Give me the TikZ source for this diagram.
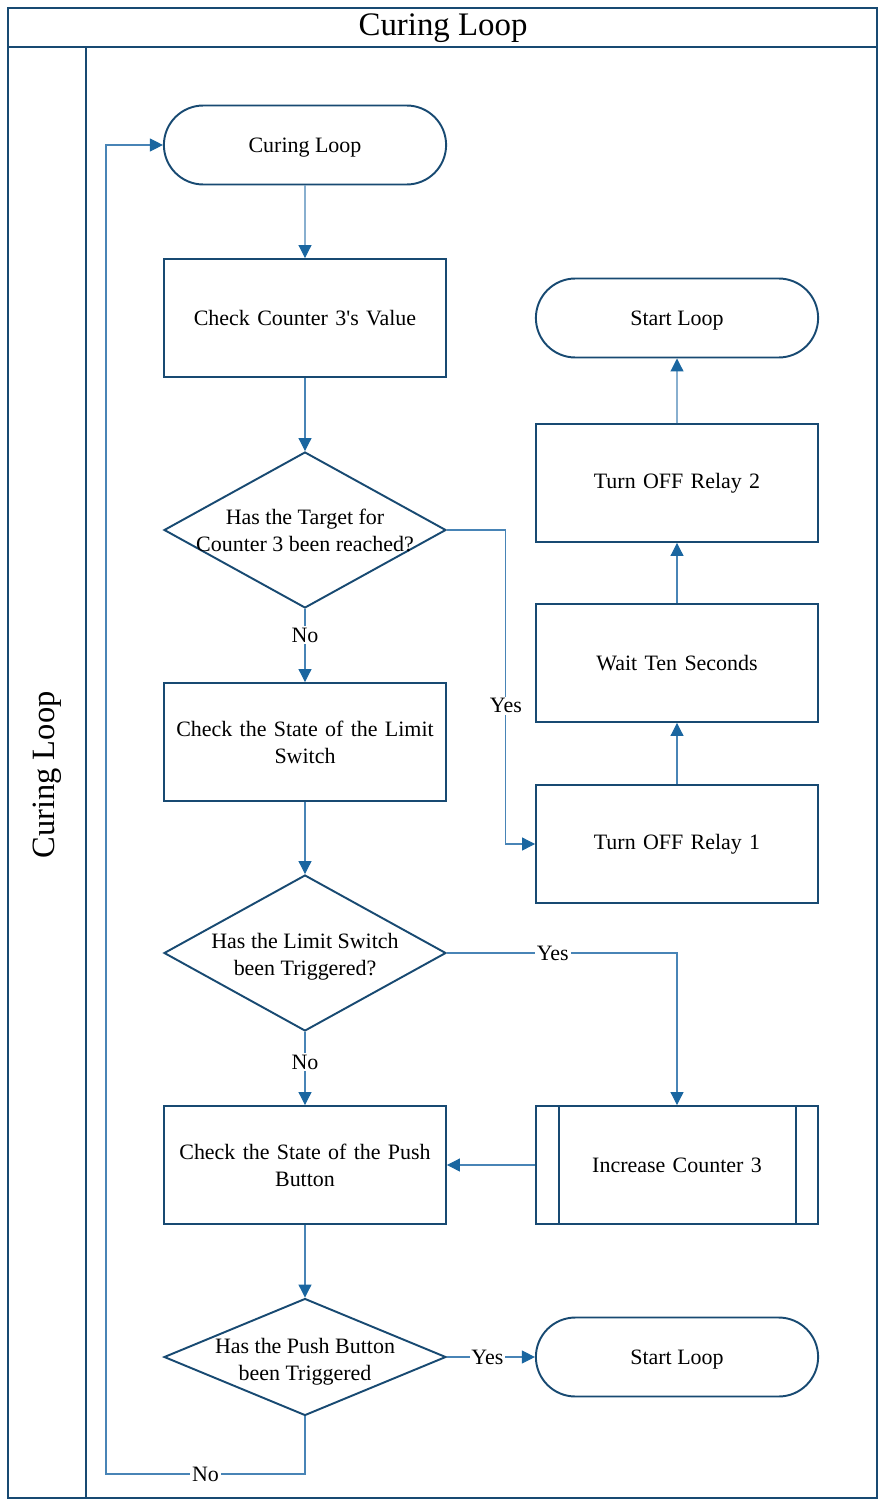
\documentclass[tikz,border=0pt]{standalone}
\usepackage{fontspec}
\setmainfont{Liberation Serif}
\usetikzlibrary{shapes.geometric,shapes.misc,arrows.meta}

\definecolor{frameblue}{RGB}{24,74,114}
\definecolor{lineblue}{RGB}{72,132,182}
\definecolor{tipblue}{RGB}{26,102,160}

\begin{document}
\begin{tikzpicture}
        [x=0.02cm,y=-0.02cm,
        every node/.style={font=\fontsize{12.5}{15.4}\selectfont,align=center},
        proc/.style={rectangle,draw=frameblue,line width=1.1pt,minimum width=5.64cm,minimum height=2.36cm,text width=5.3cm,inner sep=0pt},
        term/.style={rounded rectangle,draw=frameblue,line width=1.1pt,minimum width=5.88cm,minimum height=1.58cm,text depth=0pt},
        dec/.style={diamond,draw=frameblue,line width=1.1pt,minimum width=5.64cm,minimum height=3.12cm,inner sep=0pt},
        flow/.style={draw=lineblue,line width=0.6pt,-{Triangle[length=0.26cm,width=0.26cm,color=tipblue]}},
        lbl/.style={fill=white,inner sep=1pt}]
        \useasboundingbox (0,0) rectangle (878,1500);

        % pool and lane
        \draw[frameblue,line width=1.1pt] (8,8) rectangle (877,1498);
        \draw[frameblue,line width=1.1pt] (8,47) -- (877,47);
        \draw[frameblue,line width=1.1pt] (86,47) -- (86,1498);
        \node (title) at (443,28) {\fontsize{18.7}{22}\selectfont Curing Loop};
        \node[rotate=90] (lane) at (47,775) {\fontsize{18.5}{22}\selectfont Curing Loop};

        % main column
        \node[term] (CL) at (305,145)  {Curing Loop};
        \node[proc] (C3) at (305,318)  {Check Counter 3\textquotesingle s Value};
        \node[dec,label={center:{Has the Target for\\Counter 3 been reached?}}] (D1) at (305,530) {};
        \node[proc] (LS) at (305,742)  {Check the State of the Limit\\Switch};
        \node[dec,label={[yshift=-0.08cm]center:{Has the Limit Switch\\been Triggered?}}] (D2) at (305,953) {};
        \node[proc] (PB) at (305,1165) {Check the State of the Push\\Button};
        \node[dec,minimum height=2.34cm,label={[yshift=-0.1cm]center:{Has the Push Button\\been Triggered}}] (D3) at (305,1357) {};

        % right column
        \node[term] (SL1) at (677,318)  {Start Loop};
        \node[proc] (R2)  at (677,483)  {Turn OFF Relay 2};
        \node[proc] (W10) at (677,663)  {Wait Ten Seconds};
        \node[proc] (R1)  at (677,844)  {Turn OFF Relay 1};
        \node[proc] (IC)  at (677,1165) {Increase Counter 3};
        \node[term] (SL2) at (677,1357) {Start Loop};
        \draw[frameblue,line width=1.1pt]
        ([xshift=0.48cm]IC.north west) -- ([xshift=0.48cm]IC.south west)
        ([xshift=-0.46cm]IC.north east) -- ([xshift=-0.46cm]IC.south east);

        \coordinate (back) at (106,1474);

        \draw[flow] (CL) -- (C3);
        \draw[flow] (C3) -- (D1);
        \draw[flow] (D1) -- node[lbl,pos=0.36] {No} (LS);
        \draw[flow] (D1.east) -- ++(59,0) |- node[lbl,pos=0.28] {Yes} (R1.west);
        \draw[flow] (R1) -- (W10);
        \draw[flow] (W10) -- (R2);
        \draw[flow] (R2) -- (SL1);
        \draw[flow] (LS) -- (D2);
        \draw[flow] (D2) -- node[lbl,pos=0.41] {No} (PB);
        \draw[flow] (D2.east) -| node[lbl,pos=0.23] {Yes} (IC.north);
        \draw[flow] (IC) -- (PB);
        \draw[flow] (PB) -- (D3);
        \draw[flow] (D3.east) -- node[lbl,pos=0.46] {Yes} (SL2.west);
        \draw[flow] (D3.south) |- node[lbl,pos=0.75] {No} (back) |- (CL.west);
\end{tikzpicture}
\end{document}
